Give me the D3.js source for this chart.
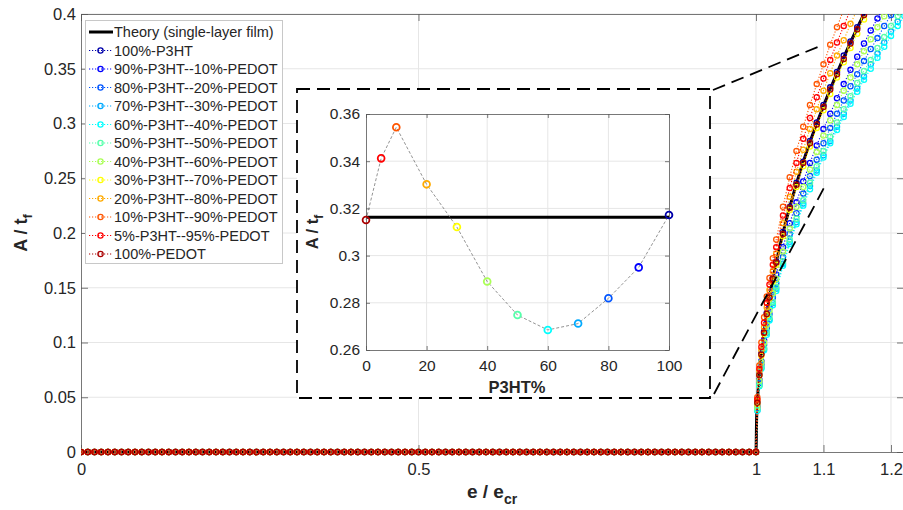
<!DOCTYPE html>
<html>
<head>
<meta charset="utf-8">
<script src="https://cdn.jsdelivr.net/npm/d3@7"></script>
<style>
body { margin: 0; background: #fff; }
svg text { font-family: "Liberation Sans", Arial, sans-serif; fill: #262626; }
</style>
</head>
<body>
<div id="chart"></div>
<script>
// series names and colours (legend order)
var seriesNames = ['100%-P3HT', '90%-P3HT--10%-PEDOT', '80%-P3HT--20%-PEDOT', '70%-P3HT--30%-PEDOT',
    '60%-P3HT--40%-PEDOT', '50%-P3HT--50%-PEDOT', '40%-P3HT--60%-PEDOT', '30%-P3HT--70%-PEDOT',
    '20%-P3HT--80%-PEDOT', '10%-P3HT--90%-PEDOT', '5%-P3HT--95%-PEDOT', '100%-PEDOT'];
var seriesColors = ['#0000aa', '#0000ff', '#0055ff', '#00aaff', '#00ffff', '#55ffaa',
    '#aaff55', '#ffff00', '#ffaa00', '#ff5500', '#ff0000', '#aa0000'];

// pre-buckling strain points (A/tf = 0)
var flatStrain = [0.00, 0.01, 0.02, 0.03, 0.04, 0.05, 0.06, 0.07, 0.08, 0.09, 0.10, 0.11, 0.12, 0.13, 0.14, 0.15,
    0.16, 0.17, 0.18, 0.19, 0.20, 0.21, 0.22, 0.23, 0.24, 0.25, 0.26, 0.27, 0.28, 0.29, 0.30, 0.31, 0.32, 0.33,
    0.34, 0.35, 0.36, 0.37, 0.38, 0.39, 0.40, 0.41, 0.42, 0.43, 0.44, 0.45, 0.46, 0.47, 0.48, 0.49, 0.50, 0.51,
    0.52, 0.53, 0.54, 0.55, 0.56, 0.57, 0.58, 0.59, 0.60, 0.61, 0.62, 0.63, 0.64, 0.65, 0.66, 0.67, 0.68, 0.69,
    0.70, 0.71, 0.72, 0.73, 0.74, 0.75, 0.76, 0.77, 0.78, 0.79, 0.80, 0.81, 0.82, 0.83, 0.84, 0.85, 0.86, 0.87,
    0.88, 0.89, 0.90, 0.91, 0.92, 0.93, 0.94, 0.95, 0.96, 0.97, 0.98, 0.99];

// post-buckling strain points
var postStrain = [1, 1.002, 1.005, 1.008, 1.012, 1.016, 1.02, 1.025, 1.03, 1.04, 1.05, 1.06, 1.07, 1.08,
    1.09, 1.1, 1.11, 1.12, 1.13, 1.14, 1.15, 1.16, 1.17, 1.18, 1.19, 1.2, 1.21, 1.22];

var amp100P3HT = [0, .045, .071, .090, .110, .127, .142, .159, .174, .201, .224, .246, .265, .284, .301, .317, .333, .347, .362, .375, .388, .401];
var amp90P3HT = [0, .042, .066, .083, .102, .118, .132, .148, .162, .187, .209, .228, .247, .264, .280, .295, .309, .323, .336, .349, .361, .373, .385, .396, .407];
var amp80P3HT = [0, .040, .063, .080, .098, .113, .126, .141, .154, .178, .199, .218, .236, .252, .267, .282, .296, .309, .321, .334, .345, .357, .368, .378, .389, .399, .409];
var amp70P3HT = [0, .038, .061, .077, .094, .109, .121, .136, .149, .172, .192, .210, .227, .243, .257, .271, .284, .297, .309, .321, .332, .343, .354, .364, .374, .384, .393, .402];
var amp60P3HT = [0, .038, .060, .076, .093, .107, .120, .134, .147, .170, .190, .208, .225, .240, .255, .269, .282, .294, .306, .318, .329, .340, .350, .360, .370, .380, .389, .398];
var amp50P3HT = [0, .039, .061, .078, .095, .110, .123, .137, .151, .174, .194, .213, .230, .246, .261, .275, .288, .301, .313, .325, .337, .348, .358, .369, .379, .389, .398, .408];
var amp40P3HT = [0, .041, .065, .082, .100, .116, .129, .145, .158, .183, .204, .224, .242, .258, .274, .289, .303, .317, .330, .342, .354, .366, .377, .388, .398, .409];
var amp30P3HT = [0, .044, .070, .088, .108, .125, .140, .156, .171, .197, .221, .242, .261, .279, .296, .312, .327, .342, .356, .369, .382, .395, .407];
var amp20P3HT = [0, .047, .074, .093, .114, .132, .148, .165, .181, .209, .233, .256, .276, .295, .313, .330, .346, .362, .376, .391, .404];
var amp10P3HT = [0, .050, .079, .100, .123, .142, .159, .177, .194, .224, .251, .275, .297, .317, .336, .354, .372, .388, .404];
var amp5P3HT = [0, .048, .076, .096, .118, .136, .153, .171, .187, .216, .241, .264, .286, .305, .324, .341, .358, .374, .389, .404];
var amp0P3HT = [0, .045, .070, .089, .109, .126, .141, .158, .173, .199, .223, .244, .264, .282, .299, .315, .331, .345, .359, .373, .386, .399, .411];
var seriesAmps = [amp100P3HT, amp90P3HT, amp80P3HT, amp70P3HT, amp60P3HT, amp50P3HT,
    amp40P3HT, amp30P3HT, amp20P3HT, amp10P3HT, amp5P3HT, amp0P3HT];

// theory (single-layer film)
var theoryStrain = [0, 1, 1.001, 1.002, 1.005, 1.01, 1.02, 1.03, 1.04, 1.06, 1.08, 1.1, 1.12, 1.14, 1.16, 1.18];
var theoryAmp = [0, 0, .032, .045, .071, .1, .141, .173, .2, .245, .283, .316, .346, .374, .4, .424];

// inset: A/tf at e/ecr = 1.1 vs P3HT%
var insetPct = [0, 5, 10, 20, 30, 40, 50, 60, 70, 80, 90, 100];
var insetAmp = [0.3151, 0.3412, 0.3544, 0.3302, 0.3121, 0.289, 0.2748, 0.2685, 0.2712, 0.2819, 0.295, 0.3172];
var insetColors = ['#aa0000', '#ff0000', '#ff5500', '#ffaa00', '#ffff00', '#aaff55',
    '#55ffaa', '#00ffff', '#00aaff', '#0055ff', '#0000ff', '#0000aa'];
var insetTheory = 0.3162;

// ticks
var mainXTicks = [0, 0.5, 1, 1.1, 1.2];
var mainYTicks = [0, 0.05, 0.1, 0.15, 0.2, 0.25, 0.3, 0.35, 0.4];
var insetXTicks = [0, 20, 40, 60, 80, 100];
var insetYTicks = [0.26, 0.28, 0.3, 0.32, 0.34, 0.36];

// zoom window marked on the main curves
var zoomTop = [1.1, 0.372];
var zoomBottom = [1.104, 0.245];

var svg = d3.select('#chart').append('svg')
    .attr('width', 903)
    .attr('height', 510);

var plot = { left: 81, right: 904, top: 14, bottom: 452 };
var x = d3.scaleLinear().domain([0, 1.2193]).range([plot.left, plot.right]);
var y = d3.scaleLinear().domain([0, 0.4]).range([plot.bottom, plot.top]);
var fmt = d3.format('~g');

function drawGrid(g, xs, ys, xt, yt, box) {
    g.selectAll('.vg').data(xt).enter().append('line')
        .attr('x1', d => xs(d)).attr('x2', d => xs(d))
        .attr('y1', box.top).attr('y2', box.bottom)
        .attr('stroke', '#e6e6e6').attr('stroke-width', 1);
    g.selectAll('.hg').data(yt).enter().append('line')
        .attr('x1', box.left).attr('x2', box.right)
        .attr('y1', d => ys(d)).attr('y2', d => ys(d))
        .attr('stroke', '#e6e6e6').attr('stroke-width', 1);
}

function drawAxes(g, xs, ys, xt, yt, box, opts) {
    function style(sel) {
        sel.attr('font-size', opts.font).attr('font-family', null).style('color', '#262626');
        sel.select('.domain').attr('stroke', '#555').attr('stroke-width', 0.8);
        sel.selectAll('.tick line').attr('stroke', '#555').attr('stroke-width', 0.8);
    }
    g.append('g').attr('transform', `translate(0,${box.bottom})`)
        .call(d3.axisBottom(xs).tickValues(xt).tickFormat(fmt).tickSize(-opts.tick).tickSizeOuter(0).tickPadding(opts.padX))
        .call(style);
    g.append('g').attr('transform', `translate(0,${box.top})`)
        .call(d3.axisTop(xs).tickValues(xt).tickFormat('').tickSize(-opts.tick).tickSizeOuter(0))
        .call(style);
    g.append('g').attr('transform', `translate(${box.left},0)`)
        .call(d3.axisLeft(ys).tickValues(yt).tickFormat(fmt).tickSize(-opts.tick).tickSizeOuter(0).tickPadding(opts.padY))
        .call(style);
    g.append('g').attr('transform', `translate(${box.right},0)`)
        .call(d3.axisRight(ys).tickValues(yt).tickFormat('').tickSize(-opts.tick).tickSizeOuter(0))
        .call(style);
}

// ---- main axes ----
var mainG = svg.append('g');
drawGrid(mainG, x, y, mainXTicks.slice(1), mainYTicks.slice(1), plot);

svg.append('clipPath').attr('id', 'mainClip')
    .append('rect')
    .attr('x', plot.left).attr('y', plot.top)
    .attr('width', plot.right - plot.left).attr('height', plot.bottom - plot.top + 4);

var dataG = svg.append('g').attr('clip-path', 'url(#mainClip)');
var line = d3.line().x(d => x(d[0])).y(d => y(d[1]));

dataG.append('path')
    .attr('d', line.curve(d3.curveMonotoneX)(d3.zip(theoryStrain, theoryAmp)))
    .attr('fill', 'none')
    .attr('stroke', 'black')
    .attr('stroke-width', 3);
line.curve(d3.curveLinear);

seriesAmps.forEach(function (amps, i) {
    var pts = flatStrain.map(e => [e, 0]).concat(d3.zip(postStrain.slice(0, amps.length), amps));
    var sg = dataG.append('g');
    sg.append('path')
        .attr('d', line(pts))
        .attr('fill', 'none')
        .attr('stroke', seriesColors[i])
        .attr('stroke-width', 1.1)
        .attr('stroke-dasharray', '1.2,1.8');
    sg.selectAll('circle').data(pts).enter().append('circle')
        .attr('cx', d => x(d[0]))
        .attr('cy', d => y(d[1]))
        .attr('r', 2.6)
        .attr('fill', 'none')
        .attr('stroke', seriesColors[i])
        .attr('stroke-width', 1.3);
});

drawAxes(mainG, x, y, mainXTicks, mainYTicks, plot, { font: 16.5, tick: 7, padX: 11, padY: 5 });
mainG.raise();
dataG.raise();

// axis labels
var yLab = svg.append('text')
    .attr('transform', 'translate(27,233) rotate(-90)')
    .attr('text-anchor', 'middle')
    .attr('font-size', 18).attr('font-weight', 'bold');
yLab.append('tspan').text('A / t');
yLab.append('tspan').text('f').attr('font-size', 13).attr('dy', 5);

var xLab = svg.append('text')
    .attr('x', 492).attr('y', 498)
    .attr('text-anchor', 'middle')
    .attr('font-size', 19).attr('font-weight', 'bold');
xLab.append('tspan').text('e / e');
xLab.append('tspan').text('cr').attr('font-size', 14).attr('dy', 6);

// ---- inset ----
var inBox = { left: 297, top: 89, right: 710, bottom: 398 };
var inPlot = { left: 366, right: 669, top: 114, bottom: 350 };

svg.append('line')
    .attr('x1', inBox.right + 3).attr('y1', inBox.top + 1)
    .attr('x2', x(zoomTop[0])).attr('y2', y(zoomTop[1]))
    .attr('stroke', 'black').attr('stroke-width', 1.8).attr('stroke-dasharray', '13,7');
svg.append('line')
    .attr('x1', inBox.right + 4).attr('y1', inBox.bottom - 4)
    .attr('x2', x(zoomBottom[0])).attr('y2', y(zoomBottom[1]))
    .attr('stroke', 'black').attr('stroke-width', 1.8).attr('stroke-dasharray', '13,7');

svg.append('rect')
    .attr('x', inBox.left).attr('y', inBox.top)
    .attr('width', inBox.right - inBox.left).attr('height', inBox.bottom - inBox.top)
    .attr('fill', 'white')
    .attr('stroke', 'black').attr('stroke-width', 1.8).attr('stroke-dasharray', '13,7');

var ix = d3.scaleLinear().domain([0, 100]).range([inPlot.left, inPlot.right]);
var iy = d3.scaleLinear().domain([0.26, 0.36]).range([inPlot.bottom, inPlot.top]);
var inG = svg.append('g');
drawGrid(inG, ix, iy, insetXTicks.slice(1, -1), insetYTicks.slice(1, -1), inPlot);
drawAxes(inG, ix, iy, insetXTicks, insetYTicks, inPlot, { font: 15.5, tick: 4, padX: 10, padY: 6 });

inG.append('line')
    .attr('x1', ix(0)).attr('x2', ix(100))
    .attr('y1', iy(insetTheory)).attr('y2', iy(insetTheory))
    .attr('stroke', 'black').attr('stroke-width', 3);

inG.append('path')
    .attr('d', d3.line().x(d => ix(d[0])).y(d => iy(d[1]))(d3.zip(insetPct, insetAmp)))
    .attr('fill', 'none')
    .attr('stroke', '#777')
    .attr('stroke-width', 0.8)
    .attr('stroke-dasharray', '3,2');

inG.selectAll('.pt').data(d3.zip(insetPct, insetAmp, insetColors)).enter().append('circle')
    .attr('cx', d => ix(d[0]))
    .attr('cy', d => iy(d[1]))
    .attr('r', 3.4)
    .attr('fill', 'none')
    .attr('stroke', d => d[2])
    .attr('stroke-width', 1.8);

var iyLab = svg.append('text')
    .attr('transform', 'translate(318,232) rotate(-90)')
    .attr('text-anchor', 'middle')
    .attr('font-size', 16.5).attr('font-weight', 'bold');
iyLab.append('tspan').text('A / t');
iyLab.append('tspan').text('f').attr('font-size', 12).attr('dy', 5);

svg.append('text')
    .attr('x', 517).attr('y', 393)
    .attr('text-anchor', 'middle')
    .attr('font-size', 16.5).attr('font-weight', 'bold')
    .text('P3HT%');

// ---- legend ----
var leg = svg.append('g');
leg.append('rect')
    .attr('x', 85.5).attr('y', 20.5)
    .attr('width', 197).attr('height', 243)
    .attr('fill', 'white')
    .attr('stroke', '#c8c8c8');

var rowY = i => 32 + i * 18.5;
leg.append('line')
    .attr('x1', 89).attr('x2', 113).attr('y1', rowY(0)).attr('y2', rowY(0))
    .attr('stroke', 'black').attr('stroke-width', 3);
leg.append('text')
    .attr('x', 114).attr('y', rowY(0)).attr('dy', '0.35em')
    .attr('font-size', 14.5)
    .text('Theory (single-layer film)');

seriesNames.forEach(function (name, i) {
    var yy = rowY(i + 1);
    leg.append('line')
        .attr('x1', 89).attr('x2', 112).attr('y1', yy).attr('y2', yy)
        .attr('stroke', seriesColors[i]).attr('stroke-width', 1.1)
        .attr('stroke-dasharray', '1.2,1.8');
    leg.append('circle')
        .attr('cx', 100.5).attr('cy', yy).attr('r', 2.6)
        .attr('fill', 'none')
        .attr('stroke', seriesColors[i]).attr('stroke-width', 1.3);
    leg.append('text')
        .attr('x', 114).attr('y', yy).attr('dy', '0.35em')
        .attr('font-size', 14.5)
        .text(name);
});
</script>
</body>
</html>
